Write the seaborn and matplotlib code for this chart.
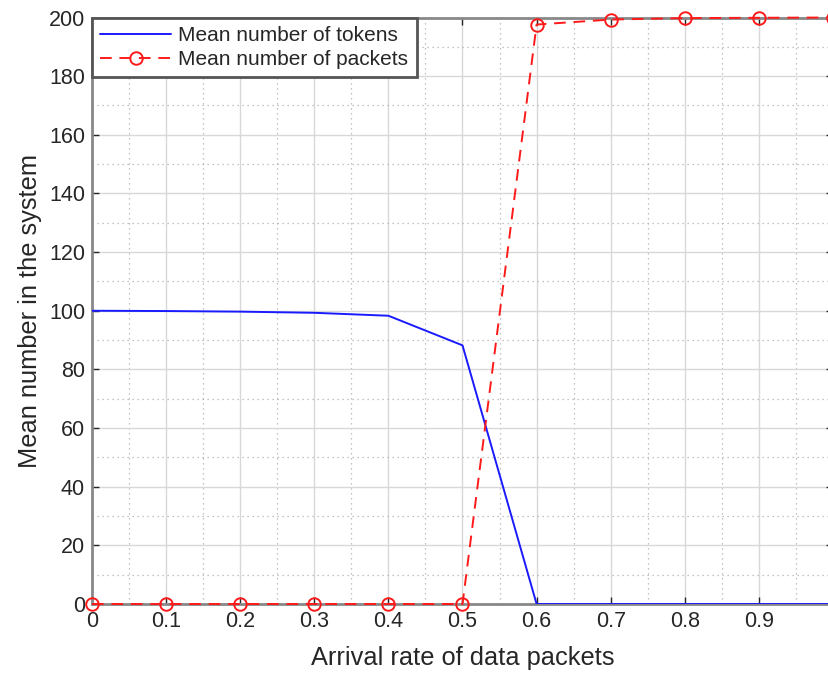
import matplotlib
matplotlib.use("Agg")
import matplotlib.pyplot as plt
import seaborn as sns
import numpy as np
import pandas as pd
from matplotlib.ticker import MultipleLocator

arrival_rate = [0.0, 0.1, 0.2, 0.3, 0.4, 0.5, 0.6, 0.7, 0.8, 0.9, 1.0]
mean_tokens = [100.0, 99.9, 99.7, 99.3, 98.3, 88.2, 0.0, 0.0, 0.0, 0.0, 0.0]
mean_packets = [0.0, 0.0, 0.0, 0.0, 0.0, 0.0, 197.6, 199.3, 199.8, 199.9, 200.0]
xticks = [0, 0.1, 0.2, 0.3, 0.4, 0.5, 0.6, 0.7, 0.8, 0.9]
xtick_labels = ["0", "0.1", "0.2", "0.3", "0.4", "0.5", "0.6", "0.7", "0.8", "0.9"]
yticks = [0, 20, 40, 60, 80, 100, 120, 140, 160, 180, 200]

sns.set_theme(style="white")
plt.rcParams['font.family'] = ['Liberation Sans', 'DejaVu Sans']

fig = plt.figure(figsize=(8.29, 6.74), dpi=100)
ax = fig.add_axes([92/829, 1-604/674, 741/829, (604-17.5)/674])

df = pd.DataFrame({"x": arrival_rate, "tokens": mean_tokens, "packets": mean_packets})

sns.lineplot(data=df, x="x", y="tokens", ax=ax, color="#1a1aff", lw=1.4,
             label="Mean number of tokens", zorder=3)
sns.lineplot(data=df, x="x", y="packets", ax=ax, color="#ff1a1a", lw=1.4,
             linestyle=(0, (6, 4)), marker="o", markersize=9,
             markerfacecolor="none", markeredgecolor="#ff1a1a", markeredgewidth=1.4,
             label="Mean number of packets", zorder=4, clip_on=False)

ax.set_xlim(0, 1)
ax.set_ylim(0, 200)
ax.set_xticks(xticks)
ax.set_xticklabels(xtick_labels)
ax.set_yticks(yticks)
ax.xaxis.set_minor_locator(MultipleLocator(0.05))
ax.yaxis.set_minor_locator(MultipleLocator(10))
ax.grid(True, which="major", color="#d8d8d8", lw=1.0, ls="-")
ax.grid(True, which="minor", color="#b0b0b0", lw=0.9, ls=(0, (1, 3)))
ax.set_axisbelow(True)
ax.tick_params(axis="both", which="major", direction="in", length=5, width=1,
               colors="#262626", labelsize=15.5, pad=5, bottom=True, left=True,
               top=True, right=True)
ax.tick_params(axis="both", which="minor", length=0)
for side in ["left", "top", "bottom", "right"]:
    ax.spines[side].set_color("#888888")
    ax.spines[side].set_linewidth(2)

ax.set_xlabel("Arrival rate of data packets", fontsize=18.3, color="#262626", labelpad=10)
ax.set_ylabel("Mean number in the system", fontsize=18.3, color="#262626", labelpad=5)

leg = ax.legend(loc="upper left", fontsize=15, frameon=True, fancybox=False,
                borderaxespad=0.0, handlelength=3.4, borderpad=0.4,
                labelspacing=0.25, handletextpad=0.35)
leg.get_frame().set_edgecolor("#555555")
leg.get_frame().set_linewidth(2)
leg.get_frame().set_alpha(1)

fig.savefig("out.png", dpi=100)
